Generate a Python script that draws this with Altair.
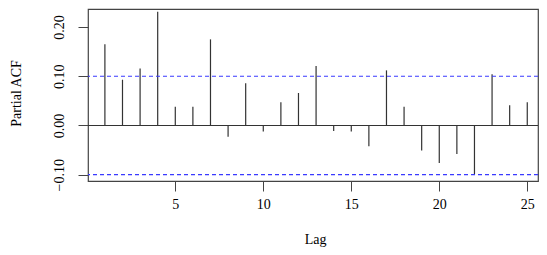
import altair as alt
import pandas as pd

lags = list(range(1, 26))
pacf = [0.165, 0.093, 0.116, 0.231, 0.038, 0.038, 0.175, -0.023, 0.086, -0.012,
        0.047, 0.066, 0.121, -0.011, -0.012, -0.042, 0.112, 0.038, -0.051, -0.076,
        -0.058, -0.099, 0.104, 0.041, 0.047]
clim = 0.1
x_ticks = [5, 10, 15, 20, 25]
y_ticks = [-0.10, -0.05, 0.0, 0.05, 0.10, 0.15, 0.20]

df = pd.DataFrame({"lag": lags, "pacf": pacf, "zero": [0.0] * len(lags)})
lim_df = pd.DataFrame({"lim": [clim, -clim]})

FONT = "Liberation Serif"

xscale = alt.Scale(domain=[0.04, 25.61], nice=False, zero=False)
yscale = alt.Scale(domain=[-0.1128, 0.2367], nice=False, zero=False)

xaxis = alt.Axis(values=x_ticks, title="Lag", grid=False, domain=False,
                 tickSize=10, tickColor="#444", labelFont=FONT, labelFontSize=14,
                 labelColor="black", labelPadding=6, titleFont=FONT,
                 titleFontSize=14, titleFontWeight="normal", titleColor="black",
                 titleBaseline="alphabetic", titleY=62, titleX=227, labelFlush=False)
yaxis = alt.Axis(values=y_ticks, title="Partial ACF", grid=False, domain=False,
                 tickSize=10, tickColor="#444", labelFont=FONT, labelFontSize=14,
                 labelColor="black", labelAngle=270, labelAlign="center",
                 labelBaseline="bottom", labelPadding=12, labelOverlap=False,
                 labelFlush=False,
                 labelExpr="abs(round(datum.value*100)) % 10 == 0 ? format(datum.value, '.2f') : ''",
                 titleFont=FONT, titleFontSize=14, titleFontWeight="normal",
                 titleColor="black", titleAngle=270, titleAlign="center",
                 titleBaseline="middle", titleX=-72, titleY=84)

stems = alt.Chart(df).mark_rule(color="#333", strokeWidth=1.2).encode(
    x=alt.X("lag:Q", scale=xscale, axis=xaxis),
    y=alt.Y("zero:Q", scale=yscale, axis=yaxis),
    y2="pacf:Q",
)

zero_line = alt.Chart(df).mark_rule(color="#333", strokeWidth=1.2).encode(
    y=alt.datum(0, scale=yscale)
)

lims = alt.Chart(lim_df).mark_rule(color="#3a3aff", strokeWidth=1.2,
                                   strokeDash=[4, 3]).encode(
    y=alt.Y("lim:Q", scale=yscale)
)

chart = alt.layer(stems, zero_line, lims).properties(
    width=450, height=172,
    autosize=alt.AutoSizeParams(type="none"),
    padding={"left": 80, "top": 1, "right": 1, "bottom": 66},
    background="white",
).configure_view(stroke="#444", strokeWidth=1.2).configure_axis(
    labelFont=FONT, titleFont=FONT
)

chart.save("out.html", embed_options={"renderer": "svg", "actions": False})
